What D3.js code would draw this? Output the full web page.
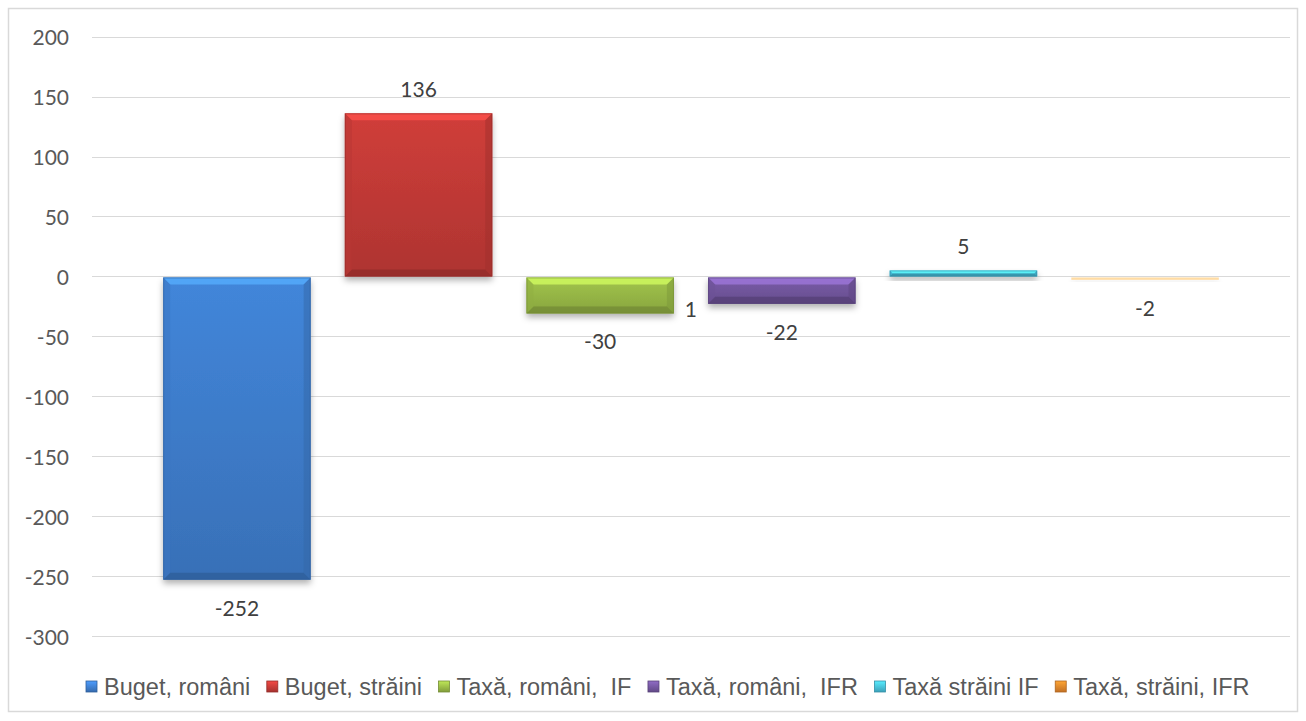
<!DOCTYPE html>
<html>
<head>
<meta charset="utf-8">
<script src="https://cdn.jsdelivr.net/npm/d3@7"></script>
<style>
  body { margin: 0; background: #fff; }
  svg { display: block; }
</style>
</head>
<body>
<div id="chart"></div>
<script>
// data
const series = ['Buget, români', 'Buget, străini', 'Taxă, români,  IF', 'Taxă, români,  IFR', 'Taxă străini IF', 'Taxă, străini, IFR'];
const values = [-252, 136, -30, -22, 5, -2];
const baseColors = ['#3f7fcf', '#c53b37', '#9abb47', '#7457a0', '#46bfdd', '#e8862b'];
const yTicks = [200, 150, 100, 50, 0, -50, -100, -150, -200, -250, -300];
// stray label "1" sitting beside the green bar
const strayLabel = { series: 2, text: '1' };

const W = 1306, H = 721;
const svg = d3.select('#chart').append('svg').attr('width', W).attr('height', H);
const defs = svg.append('defs');

// chart frame
svg.append('rect')
  .attr('x', 8.5).attr('y', 8.5)
  .attr('width', 1289).attr('height', 703)
  .attr('fill', '#fff').attr('stroke', '#d9d9d9').attr('stroke-width', 1.5);

const x = d3.scaleBand().domain(series).range([92, 1290]).paddingInner(0.188).paddingOuter(0.392);
const y = d3.scaleLinear().domain([-300, 200]).range([636.2, 36.6]);

// gridlines
svg.append('g').selectAll('line')
  .data(yTicks).join('line')
  .attr('x1', 92).attr('x2', 1290)
  .attr('y1', d => Math.round(y(d)) + 0.5).attr('y2', d => Math.round(y(d)) + 0.5)
  .attr('stroke', '#d9d9d9').attr('stroke-width', 1);

// tick labels
svg.append('g').selectAll('text')
  .data(yTicks).join('text')
  .attr('x', 69).attr('y', d => y(d))
  .attr('text-anchor', 'end').attr('dominant-baseline', 'central')
  .style('font-family', 'Lato, "Open Sans", sans-serif')
  .style('font-size', '21px').attr('fill', '#595959')
  .text(d => d);

// shadow filter
const f = defs.append('filter').attr('id', 'shadow')
  .attr('x', '-10%').attr('y', '-30%').attr('width', '120%').attr('height', '200%');
f.append('feDropShadow').attr('dx', 0).attr('dy', 4).attr('stdDeviation', 3)
  .attr('flood-color', '#000').attr('flood-opacity', 0.3);

// gradients per series
baseColors.forEach((c, i) => {
  const g = defs.append('linearGradient').attr('id', 'grad' + i)
    .attr('x1', 0).attr('y1', 0).attr('x2', 0).attr('y2', 1);
  g.append('stop').attr('offset', '0%').attr('stop-color', d3.color(c).brighter(0.15));
  g.append('stop').attr('offset', '100%').attr('stop-color', d3.color(c).darker(0.35));
});

const barData = values.map((v, i) => ({ v, i, name: series[i] }));

const bars = svg.append('g').selectAll('g')
  .data(barData)
  .join('g');

bars.each(function(d) {
  const g = d3.select(this);
  const x0 = x(d.name), w = x.bandwidth();
  const y0 = Math.min(y(0), y(d.v)) + (d.v < 0 ? 1 : 0);
  const h = Math.max(Math.abs(y(d.v) - y(0)), 1.5);
  const c = d3.color(baseColors[d.i]);
  if (h < 4) {
    // very thin bars come out washed, like the reference
    g.append('rect')
      .attr('x', x0).attr('y', y0).attr('width', w).attr('height', h)
      .attr('fill', c.brighter(0.8)).attr('opacity', 0.45)
      .attr('filter', 'url(#shadow)');
    return;
  }
  g.append('rect')
    .attr('x', x0).attr('y', y0).attr('width', w).attr('height', h)
    .attr('fill', `url(#grad${d.i})`)
    .attr('filter', 'url(#shadow)');
  // bevel edges
  const b = Math.min(7, h / 2);
  const x1 = x0 + w, y1 = y0 + h;
  const poly = (pts, col, op) => g.append('polygon')
    .attr('points', pts.map(p => p.join(',')).join(' '))
    .attr('fill', col).attr('opacity', op);
  poly([[x0, y0], [x1, y0], [x1 - b, y0 + b], [x0 + b, y0 + b]], c.brighter(0.9), 0.75);
  poly([[x0, y1], [x1, y1], [x1 - b, y1 - b], [x0 + b, y1 - b]], c.darker(0.9), 0.7);
  poly([[x0, y0], [x0 + b, y0 + b], [x0 + b, y1 - b], [x0, y1]], c.darker(0.2), 0.5);
  poly([[x1, y0], [x1 - b, y0 + b], [x1 - b, y1 - b], [x1, y1]], c.darker(0.6), 0.5);
  g.append('rect')
    .attr('x', x0 + 0.5).attr('y', y0 + 0.5).attr('width', w - 1).attr('height', Math.max(h - 1, 0.5))
    .attr('fill', 'none').attr('stroke', c.darker(0.8)).attr('stroke-opacity', 0.6).attr('stroke-width', 1);
});

// value labels
const labelFont = 'Lato, "Open Sans", sans-serif';
svg.append('g').selectAll('text')
  .data(barData)
  .join('text')
  .attr('x', d => x(d.name) + x.bandwidth() / 2)
  .attr('y', d => d.v >= 0 ? y(d.v) - 25 : y(d.v) + 28.5)
  .attr('text-anchor', 'middle').attr('dominant-baseline', 'central')
  .style('font-family', labelFont).style('font-size', '21px').attr('fill', '#404040')
  .text(d => d.v);

svg.append('text')
  .attr('x', x(series[strayLabel.series]) + x.bandwidth() + 17)
  .attr('y', y(0) + 32)
  .attr('text-anchor', 'middle').attr('dominant-baseline', 'central')
  .style('font-family', labelFont).style('font-size', '21px').attr('fill', '#404040')
  .text(strayLabel.text);

// legend
baseColors.forEach((c, i) => {
  const g = defs.append('linearGradient').attr('id', 'lg' + i)
    .attr('x1', 0).attr('y1', 0).attr('x2', 0).attr('y2', 1);
  g.append('stop').attr('offset', '0%').attr('stop-color', d3.color(c).brighter(0.6));
  g.append('stop').attr('offset', '100%').attr('stop-color', d3.color(c).darker(0.5));
});

const legend = svg.append('g');
let lx = 86;
const ly = 687;
series.forEach((s, i) => {
  const c = d3.color(baseColors[i]);
  legend.append('rect')
    .attr('x', lx).attr('y', ly - 6).attr('width', 11).attr('height', 11)
    .attr('fill', `url(#lg${i})`).attr('stroke', c.darker(0.8)).attr('stroke-width', 0.8);
  const t = legend.append('text')
    .attr('x', lx + 18).attr('y', ly)
    .attr('dominant-baseline', 'central')
    .style('font-family', '"Liberation Sans", Arial, sans-serif')
    .style('font-size', '23.5px').attr('fill', '#595959')
    .style('white-space', 'pre')
    .attr('xml:space', 'preserve')
    .text(s);
  lx += 18 + t.node().getComputedTextLength() + 16.5;
});
</script>
</body>
</html>
